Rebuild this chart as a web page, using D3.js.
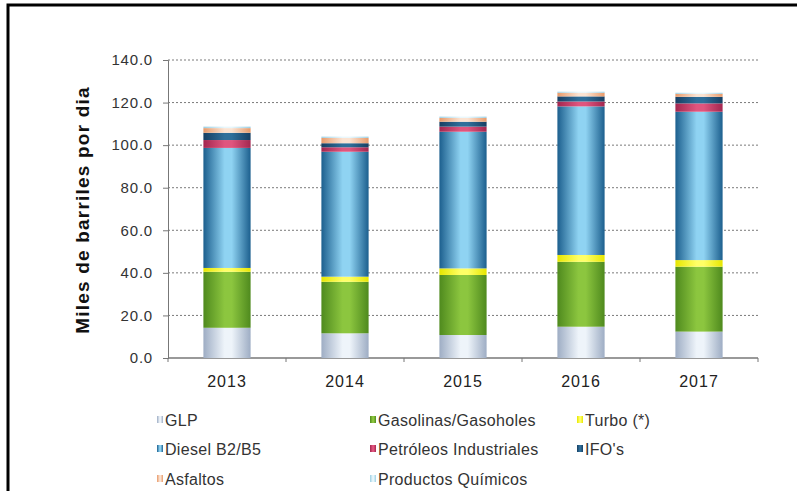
<!DOCTYPE html>
<html>
<head>
<meta charset="utf-8">
<script src="https://cdn.jsdelivr.net/npm/d3@7"></script>
<style>
  html, body { margin: 0; padding: 0; background: #fff; }
  svg { display: block; font-family: "Liberation Sans", Arial, sans-serif; }
</style>
</head>
<body>
<svg id="chart" width="797" height="491"></svg>
<script>
// Demanda de combustibles por año (miles de barriles por día)
const years = ["2013", "2014", "2015", "2016", "2017"];
const glp        = [14.2, 11.6, 10.8, 14.7, 12.4];
const gasolinas  = [26.3, 24.2, 28.2, 30.5, 30.5];
const turbo      = [1.8, 2.4, 3.1, 3.2, 3.1];
const diesel     = [56.4, 58.7, 64.2, 69.8, 69.7];
const petroleos  = [3.7, 2.1, 2.4, 2.3, 3.9];
const ifos       = [3.4, 1.9, 2.3, 2.4, 3.1];
const asfaltos   = [2.2, 2.5, 1.8, 1.7, 1.4];
const quimicos   = [0.7, 0.6, 0.6, 0.5, 0.5];
const yTicks = [0, 20, 40, 60, 80, 100, 120, 140];

const seriesNames = ["GLP", "Gasolinas/Gasoholes", "Turbo (*)", "Diesel B2/B5",
  "Petróleos Industriales", "IFO's", "Asfaltos", "Productos Químicos"];
const seriesValues = [glp, gasolinas, turbo, diesel, petroleos, ifos, asfaltos, quimicos];
// [edge, centre] colours for the cylinder shading of each series
const seriesColors = [
  ["#9eadc4", "#eef4fa"],
  ["#4f8a1e", "#8cc63f"],
  ["#e6e600", "#ffff66"],
  ["#1c5f8e", "#8fd3f2"],
  ["#a3264f", "#e0557e"],
  ["#173f63", "#2f6f9a"],
  ["#e89a6a", "#fbe3d2"],
  ["#9ccfe3", "#e8f7fc"]
];

const rows = years.map((yr, i) => {
  const r = { year: yr };
  seriesNames.forEach((n, k) => { r[n] = seriesValues[k][i]; });
  return r;
});

const svg = d3.select("#chart");
const defs = svg.append("defs");
seriesColors.forEach((c, k) => {
  const g = defs.append("linearGradient").attr("id", "grad" + k)
    .attr("x1", "0%").attr("x2", "100%").attr("y1", "0%").attr("y2", "0%");
  g.append("stop").attr("offset", "0%").attr("stop-color", c[0]);
  g.append("stop").attr("offset", "45%").attr("stop-color", c[1]);
  g.append("stop").attr("offset", "60%").attr("stop-color", c[1]);
  g.append("stop").attr("offset", "100%").attr("stop-color", c[0]);
});

// Outer frame
svg.append("path").attr("d", "M8,491 V5 H797")
  .attr("fill", "none").attr("stroke", "#000").attr("stroke-width", 3);

const plotLeft = 168, plotRight = 758, plotTop = 60, plotBottom = 358;
const x = d3.scaleBand().domain(years).range([plotLeft, plotRight]).paddingInner(0.6).paddingOuter(0.3);
const y = d3.scaleLinear().domain([0, 140]).range([plotBottom, plotTop]);

// Gridlines
svg.append("g").selectAll("line").data(yTicks.filter(t => t > 0)).join("line")
  .attr("x1", plotLeft).attr("x2", plotRight)
  .attr("y1", d => y(d)).attr("y2", d => y(d))
  .attr("stroke", "#7a7a7a").attr("stroke-width", 1).attr("stroke-dasharray", "2,2");

// Y axis
const yAxis = svg.append("g").attr("transform", `translate(${plotLeft},0)`)
  .call(d3.axisLeft(y).tickValues(yTicks).tickFormat(d3.format(".1f")).tickSize(5).tickPadding(10));
yAxis.select(".domain").attr("stroke", "#777");
yAxis.selectAll(".tick line").attr("stroke", "#777");
yAxis.selectAll("text").attr("font-size", 15).attr("letter-spacing", 0.8)
  .attr("fill", "#333").attr("font-family", null);

// X axis with ticks at category boundaries
const xAxisG = svg.append("g").attr("transform", `translate(0,${plotBottom})`);
xAxisG.append("line").attr("x1", plotLeft).attr("x2", plotRight).attr("stroke", "#777").attr("stroke-width", 1.5);
const bounds = d3.range(years.length + 1).map(i => plotLeft + i * (plotRight - plotLeft) / years.length);
xAxisG.selectAll(".bt").data(bounds).join("line").attr("class", "bt")
  .attr("x1", d => d).attr("x2", d => d).attr("y1", 0).attr("y2", 4).attr("stroke", "#777");
xAxisG.selectAll("text").data(years).join("text")
  .attr("x", d => x(d) + x.bandwidth() / 2).attr("y", 29)
  .attr("text-anchor", "middle").attr("font-size", 16).attr("letter-spacing", 1).attr("fill", "#222")
  .text(d => d);

// Stacked bars
const stack = d3.stack().keys(seriesNames)(rows);
svg.append("g").selectAll("g").data(stack).join("g")
  .attr("fill", (d, k) => `url(#grad${k})`)
  .selectAll("rect").data(d => d).join("rect")
  .attr("x", d => x(d.data.year))
  .attr("width", x.bandwidth())
  .attr("y", d => y(d[1]))
  .attr("height", d => y(d[0]) - y(d[1]));

// Y axis title
svg.append("text")
  .attr("transform", "translate(89,210) rotate(-90)")
  .attr("text-anchor", "middle").attr("font-size", 19).attr("font-weight", "bold")
  .attr("letter-spacing", 1.2).attr("fill", "#111")
  .text("Miles de barriles por dia");

// Legend, three columns
const legCols = [157, 370, 577];
const legRows = [421, 450, 480];
const leg = svg.append("g").selectAll("g").data(seriesNames).join("g")
  .attr("transform", (d, k) => `translate(${legCols[k % 3]},${legRows[Math.floor(k / 3)]})`);
leg.append("rect").attr("x", 0).attr("y", -5).attr("width", 6).attr("height", 7)
  .attr("fill", (d, k) => `url(#grad${k})`);
leg.append("text").attr("x", 8).attr("y", 5).attr("font-size", 16).attr("letter-spacing", 0.3)
  .attr("fill", "#333")
  .text(d => d);
</script>
</body>
</html>
